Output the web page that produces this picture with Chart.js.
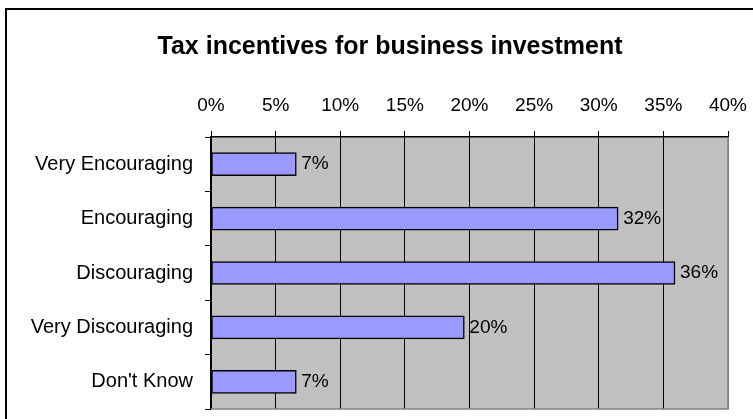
<!DOCTYPE html>
<html>
<head>
<meta charset="utf-8">
<script src="https://cdn.jsdelivr.net/npm/chart.js@4/dist/chart.umd.min.js"></script>
<style>
  html, body { margin: 0; padding: 0; background: #fff; }
  #wrap { width: 753px; height: 419px; position: relative; }
</style>
</head>
<body>
<div id="wrap"><canvas id="chart" width="753" height="419"></canvas></div>
<script>
// Chart data
const categories = ['Very Encouraging', 'Encouraging', 'Discouraging', 'Very Discouraging', "Don't Know"];
const shares = [6.6, 31.5, 35.9, 19.6, 6.6];
const xTicks = [0, 5, 10, 15, 20, 25, 30, 35, 40];
const chartTitle = 'Tax incentives for business investment';

const FONT = 'Arial, "Liberation Sans", sans-serif';

// Frame, title and grey plot background
const backdrop = {
    id: 'backdrop',
    beforeDraw(chart) {
        const ctx = chart.ctx;
        const area = chart.chartArea;
        ctx.save();
        ctx.fillStyle = '#fff';
        ctx.fillRect(0, 0, chart.width, chart.height);
        ctx.fillStyle = '#000';
        ctx.fillRect(5, 8, 2, chart.height - 8);
        ctx.fillRect(5, 8, chart.width - 5, 2);
        ctx.fillStyle = '#c0c0c0';
        ctx.fillRect(area.left, area.top, area.right - area.left, area.bottom - area.top);
        ctx.font = 'bold 25px ' + FONT;
        ctx.fillStyle = '#000';
        ctx.textAlign = 'center';
        ctx.textBaseline = 'middle';
        ctx.fillText(chartTitle, 390, 47);
        ctx.restore();
    },
    afterDatasetsDraw(chart) {
        const ctx = chart.ctx;
        const area = chart.chartArea;
        ctx.save();
        // grey plot border on the right and bottom
        ctx.strokeStyle = '#808080';
        ctx.lineWidth = 1.5;
        ctx.beginPath();
        ctx.moveTo(area.right, area.top);
        ctx.lineTo(area.right, area.bottom);
        ctx.lineTo(area.left, area.bottom);
        ctx.stroke();
        // value labels
        ctx.font = '19px ' + FONT;
        ctx.fillStyle = '#000';
        ctx.textAlign = 'left';
        ctx.textBaseline = 'middle';
        chart.getDatasetMeta(0).data.forEach((bar, i) => {
            ctx.fillText(Math.round(shares[i]) + '%', bar.x + 5, bar.y);
        });
        ctx.restore();
    }
};

new Chart(document.getElementById('chart'), {
    type: 'bar',
    data: {
        labels: categories,
        datasets: [{
            data: shares,
            backgroundColor: '#9999ff',
            borderColor: '#000',
            borderWidth: 1.5,
            borderSkipped: false,
            barThickness: 23
        }]
    },
    options: {
        indexAxis: 'y',
        responsive: false,
        animation: false,
        layout: { autoPadding: false, padding: { left: 0, top: 0, right: 25, bottom: 10 } },
        plugins: {
            legend: { display: false },
            tooltip: { enabled: false }
        },
        scales: {
            x: {
                position: 'top',
                min: 0,
                max: 40,
                afterBuildTicks(scale) {
                    scale.ticks = xTicks.map(v => ({ value: v }));
                },
                afterFit(scale) {
                    scale.height = 137;
                    scale.paddingLeft = 0;
                    scale.paddingRight = 0;
                },
                ticks: {
                    callback: v => v + '%',
                    color: '#000',
                    font: { family: FONT, size: 19 },
                    padding: 14,
                    maxRotation: 0
                },
                grid: {
                    color: ctx => ctx.index === xTicks.length - 1 ? '#808080' : '#000',
                    lineWidth: 1,
                    tickLength: 6,
                    tickColor: '#000'
                },
                border: { color: '#000', width: 1.5 }
            },
            y: {
                afterFit(scale) {
                    scale.width = 211;
                    scale.paddingTop = 0;
                    scale.paddingBottom = 0;
                },
                ticks: {
                    color: '#000',
                    font: { family: FONT, size: 20 },
                    padding: 12
                },
                grid: {
                    drawOnChartArea: false,
                    tickLength: 6,
                    color: '#000'
                },
                border: { color: '#000', width: 1.5 }
            }
        }
    },
    plugins: [backdrop]
});
</script>
</body>
</html>
